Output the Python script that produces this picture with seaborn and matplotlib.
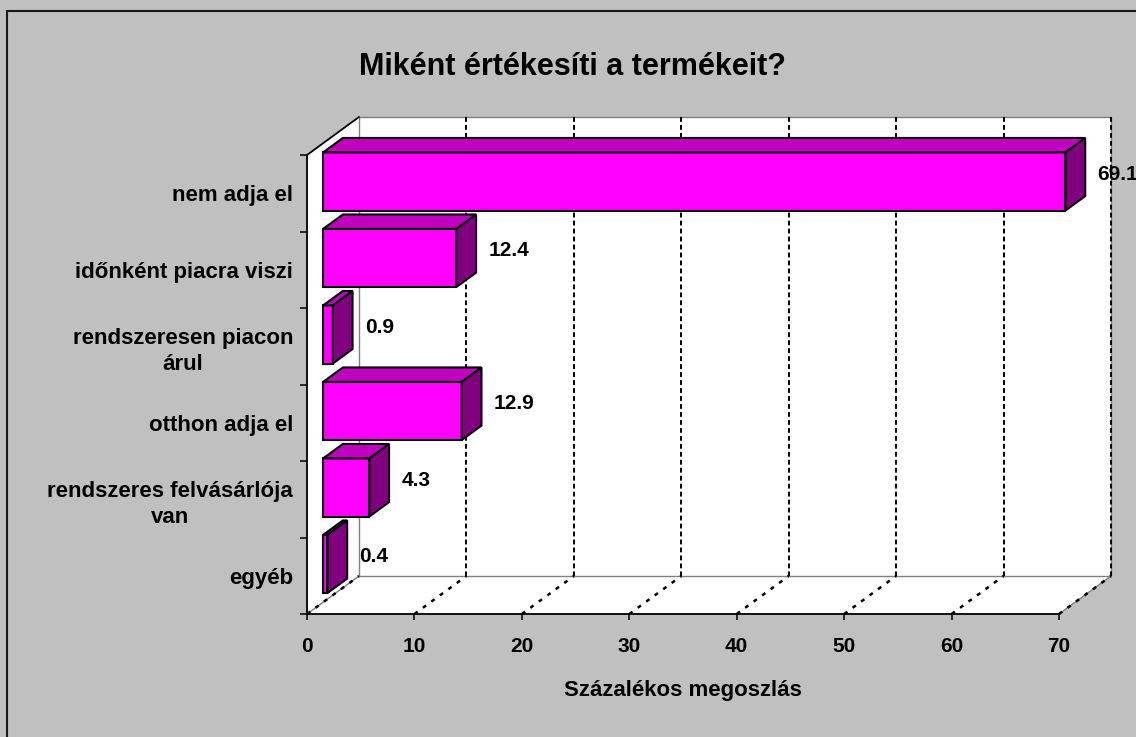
import numpy as np
import matplotlib
matplotlib.use("Agg")
import matplotlib.pyplot as plt
from matplotlib.patches import Polygon
from matplotlib.lines import Line2D
from matplotlib.transforms import Affine2D, IdentityTransform
import seaborn as sns

# data
categories = ["nem adja el", "időnként piacra viszi", "rendszeresen piacon\nárul",
              "otthon adja el", "rendszeres felvásárlója\nvan", "egyéb"]
values = [69.1, 12.4, 0.9, 12.9, 4.3, 0.4]
x_ticks = [0, 10, 20, 30, 40, 50, 60, 70]

title = "Miként értékesíti a termékeit?"
x_label = "Százalékos megoszlás"

sns.set_theme(style="white")
plt.rcParams["font.family"] = ["Liberation Sans", "DejaVu Sans"]
plt.rcParams["text.color"] = "black"
plt.rcParams["axes.labelcolor"] = "black"
plt.rcParams["xtick.color"] = "black"
plt.rcParams["ytick.color"] = "black"

W, H = 1136, 737
fig = plt.figure(figsize=(W / 100, H / 100), dpi=100, facecolor="#C0C0C0")

# front plane of the 3d box (pixels)
left, right, top, bottom = 307, 1059, 155, 614
ax = fig.add_axes([left / W, 1 - bottom / H, (right - left) / W, (bottom - top) / H])
ax.set_facecolor("none")

# depth of the box in display pixels, and where the bars sit inside it
DEPTH = np.array([52.0, 38.0])
d_front, d_back = 0.31, 0.69

sns.barplot(x=values, y=categories, orient="h", color="#FF00FF", saturation=1,
            width=0.76, edgecolor="black", linewidth=1.5, ax=ax, zorder=3)
ax.set_xlim(0, 70)
ax.set_ylim(5.5, -0.5)


def P(x, y, d):
    return ax.transData.transform((x, y)) + d * DEPTH


# walls
back = [P(0, -0.5, 1), P(70, -0.5, 1), P(70, 5.5, 1), P(0, 5.5, 1)]
side = [P(0, -0.5, 0), P(0, -0.5, 1), P(0, 5.5, 1), P(0, 5.5, 0)]
floor = [P(0, 5.5, 0), P(70, 5.5, 0), P(70, 5.5, 1), P(0, 5.5, 1)]
for poly, ec in [(side, "none"), (floor, "none"), (back, "#808080")]:
    fig.add_artist(Polygon(poly, closed=True, facecolor="white", edgecolor=ec,
                           linewidth=1, transform=IdentityTransform(), zorder=-2))


def seg(a, b, **kw):
    fig.add_artist(Line2D([a[0], b[0]], [a[1], b[1]], transform=IdentityTransform(), **kw))


seg(P(0, 5.5, 0), P(0, 5.5, 1), color="#808080", lw=1, zorder=-1)
seg(P(70, 5.5, 0), P(70, 5.5, 1), color="#808080", lw=1, zorder=-1)
for x in x_ticks:
    if x > 0:
        seg(P(x, -0.5, 1), P(x, 5.5, 1), color="black", lw=1.4,
            dashes=(2.5, 1.6), zorder=-1)
    seg(P(x, 5.5, 0), P(x, 5.5, 1), color="black", lw=1.8, dashes=(1.6, 2.6), zorder=-1)
seg(P(0, -0.5, 0), P(0, -0.5, 1), color="black", lw=1.3, zorder=-1)

# 3d faces of the bars
for p in list(ax.patches):
    x0, y0 = p.get_x(), p.get_y()
    x1, y1 = x0 + p.get_width(), y0 + p.get_height()
    off = d_front * DEPTH
    p.set_transform(ax.transData + Affine2D().translate(off[0], off[1]))
    p.set_clip_on(False)
    topf = [P(x0, y0, d_front), P(x1, y0, d_front), P(x1, y0, d_back), P(x0, y0, d_back)]
    sidef = [P(x1, y0, d_front), P(x1, y0, d_back), P(x1, y1, d_back), P(x1, y1, d_front)]
    for poly, fc in [(topf, "#BF00BF"), (sidef, "#800080")]:
        face = Polygon(poly, closed=True, facecolor=fc, edgecolor="black",
                       linewidth=1.5, joinstyle="miter", transform=IdentityTransform(),
                       zorder=3)
        face.set_clip_on(False)
        ax.add_patch(face)

# value labels, placed in the middle of the bar depth
mid = 0.5 * DEPTH
for i, v in enumerate(values):
    ax.annotate(f"{v:.1f}", xy=(v, i), xytext=(mid[0] + 22, mid[1]),
                textcoords="offset pixels", ha="left", va="center",
                fontsize=15, fontweight="bold", color="black", annotation_clip=False)

# axes styling
for s in ["top", "right"]:
    ax.spines[s].set_visible(False)
for s in ["left", "bottom"]:
    ax.spines[s].set_color("black")
    ax.spines[s].set_linewidth(1.3)

ax.set_xticks(x_ticks)
ax.set_xticklabels([str(t) for t in x_ticks], fontsize=15, fontweight="bold")
ax.tick_params(axis="x", direction="out", length=4.5, width=1.1, color="black",
               pad=12, bottom=True)
ax.set_yticks(np.arange(-0.5, 6, 1), minor=True)
ax.tick_params(axis="y", which="major", length=0, pad=10, left=False)
ax.tick_params(axis="y", which="minor", direction="out", length=5, width=1.1,
               color="black", left=True)
for lbl in ax.get_yticklabels():
    lbl.set_fontsize(16)
    lbl.set_fontweight("bold")
    lbl.set_color("black")
    lbl.set_multialignment("center")
    lbl.set_linespacing(1.35)
ax.set_ylabel("")
ax.set_xlabel(x_label, fontsize=16, fontweight="bold", labelpad=17, color="black")

fig.text(572 / W, 1 - 75 / H, title, ha="center", va="baseline",
         fontsize=22, fontweight="bold", color="black")

# chart frame (only top and left edges show in the picture)
fig.add_artist(Line2D([6.5 / W, 6.5 / W], [0, 1 - 10.5 / H], transform=fig.transFigure,
                      color="#1a1a1a", lw=1.5))
fig.add_artist(Line2D([6.5 / W, 1], [1 - 10.5 / H, 1 - 10.5 / H], transform=fig.transFigure,
                      color="#1a1a1a", lw=1.5))

fig.savefig("out.png", dpi=100, facecolor=fig.get_facecolor())
